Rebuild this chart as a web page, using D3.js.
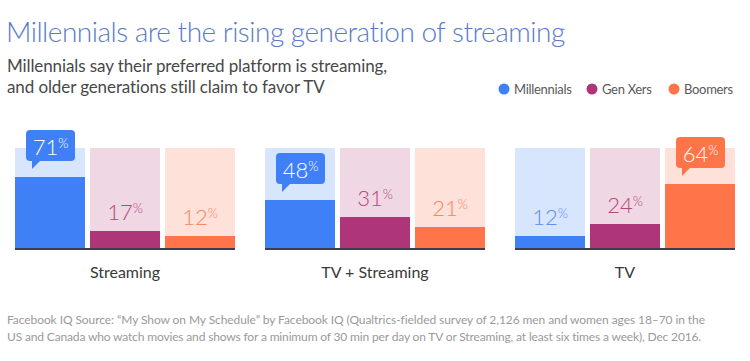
<!DOCTYPE html>
<html>
<head>
<meta charset="utf-8">
<script src="https://cdn.jsdelivr.net/npm/d3@7"></script>
<style>
  body { margin: 0; background: #fff; }
  text { font-family: Lato, "Open Sans", sans-serif; }
</style>
</head>
<body>
<section></section>
<script>
// chart data
var categories = ["Streaming", "TV + Streaming", "TV"];
var generations = ["Millennials", "Gen Xers", "Boomers"];
var millennials = [71, 48, 12];
var genXers = [17, 31, 24];
var boomers = [12, 21, 64];

var series = [millennials, genXers, boomers];

// colours per generation: bar, background, label
var barColor = ["#3f80f6", "#ae3577", "#ff7449"];
var bgColor = ["#d7e5fd", "#efd7e4", "#fee1d8"];
var labelColor = ["#5b8ff3", "#b4487f", "#ff8462"];

var width = 750, height = 361;

var svg = d3.select("section").append("svg")
  .attr("width", width)
  .attr("height", height);

// titles
svg.append("text")
  .attr("x", 6).attr("y", 42)
  .style("font-size", "28px").style("font-weight", 300)
  .style("letter-spacing", "-0.5px")
  .style("fill", "#5b7bc8")
  .text("Millennials are the rising generation of streaming");

svg.append("text")
  .attr("x", 7).attr("y", 72)
  .style("font-size", "17px")
  .style("letter-spacing", "-0.1px")
  .style("fill", "#484848")
  .text("Millennials say their preferred platform is streaming,");

svg.append("text")
  .attr("x", 7).attr("y", 93)
  .style("font-size", "17px")
  .style("letter-spacing", "-0.1px")
  .style("fill", "#484848")
  .text("and older generations still claim to favor TV");

// legend
var legendX = d3.scaleOrdinal().domain(generations).range([504, 592, 674]);
var legend = svg.selectAll(".legend")
  .data(generations)
  .enter().append("g")
  .attr("class", "legend")
  .attr("transform", function(d) { return "translate(" + legendX(d) + ",89)"; });

legend.append("circle")
  .attr("r", 5.5)
  .style("fill", function(d, i) { return barColor[i]; });

legend.append("text")
  .attr("x", 10).attr("y", 5)
  .style("font-size", "13px")
  .style("letter-spacing", "-0.3px")
  .style("fill", "#5a5a5a")
  .text(function(d) { return d; });

// scales
var x0 = d3.scaleBand()
  .domain(categories)
  .range([15, 735])
  .paddingInner(0.12);

var x1 = d3.scaleBand()
  .domain(generations)
  .range([0, x0.bandwidth()])
  .paddingInner(1 / 15);

var y = d3.scaleLinear()
  .domain([0, 100])
  .range([248, 148]);

var group = svg.selectAll(".group")
  .data(categories)
  .enter().append("g")
  .attr("class", "group")
  .attr("transform", function(d) { return "translate(" + x0(d) + ",0)"; });

// one cell per generation
var cell = group.selectAll(".cell")
  .data(function(d, ci) {
    var vals = series.map(function(s) { return s[ci]; });
    var top = d3.max(vals);
    return generations.map(function(g, gi) {
      return { gen: g, gi: gi, value: vals[gi], top: vals[gi] === top };
    });
  })
  .enter().append("g")
  .attr("class", "cell")
  .attr("transform", function(d) { return "translate(" + x1(d.gen) + ",0)"; });

cell.append("rect")
  .attr("y", y(100))
  .attr("width", x1.bandwidth())
  .attr("height", y(0) - y(100))
  .style("fill", function(d) { return bgColor[d.gi]; });

cell.append("rect")
  .attr("y", function(d) { return y(d.value); })
  .attr("width", x1.bandwidth())
  .attr("height", function(d) { return y(0) - y(d.value); })
  .style("fill", function(d) { return barColor[d.gi]; });

// plain value labels
var plain = cell.filter(function(d) { return !d.top; })
  .append("text")
  .attr("x", x1.bandwidth() / 2)
  .attr("y", function(d) { return y(d.value) - 11; })
  .style("text-anchor", "middle")
  .style("font-size", "22px").style("font-weight", 300)
  .style("fill", function(d) { return labelColor[d.gi]; });
plain.append("tspan").text(function(d) { return d.value; });
plain.append("tspan")
  .attr("dy", -7)
  .style("font-size", "13px")
  .text("%");

// callout bubble for the leading generation
var bub = cell.filter(function(d) { return d.top; })
  .append("g")
  .attr("transform", function(d) { return "translate(11," + (y(d.value) - 47) + ")"; });

bub.append("rect")
  .attr("width", 49).attr("height", 31)
  .attr("rx", 4)
  .style("fill", function(d) { return barColor[d.gi]; });

bub.append("path")
  .attr("d", "M6,30 L6,39 L15,30 Z")
  .style("fill", function(d) { return barColor[d.gi]; });

var bt = bub.append("text")
  .attr("x", 24.5).attr("y", 25)
  .style("text-anchor", "middle")
  .style("font-size", "22px").style("font-weight", 300)
  .style("fill", "#fff");
bt.append("tspan").text(function(d) { return d.value; });
bt.append("tspan")
  .attr("dy", -7)
  .style("font-size", "13px")
  .text("%");

// baseline
group.append("line")
  .attr("x1", 0).attr("x2", x0.bandwidth())
  .attr("y1", y(0) + 1).attr("y2", y(0) + 1)
  .style("stroke", "#3b3e4b")
  .style("stroke-width", 2);

// category labels
group.append("text")
  .attr("x", x0.bandwidth() / 2)
  .attr("y", 278)
  .style("text-anchor", "middle")
  .style("font-size", "16px")
  .style("fill", "#3a3a3a")
  .text(function(d) { return d; });

// source note
svg.append("text")
  .attr("x", 7).attr("y", 324)
  .style("font-size", "12px")
  .style("letter-spacing", "-0.08px")
  .style("fill", "#9a9a9a")
  .text("Facebook IQ Source: \u201cMy Show on My Schedule\u201d by Facebook IQ (Qualtrics-fielded survey of 2,126 men and women ages 18\u201370 in the");

svg.append("text")
  .attr("x", 7).attr("y", 341)
  .style("font-size", "12px")
  .style("letter-spacing", "-0.15px")
  .style("fill", "#9a9a9a")
  .text("US and Canada who watch movies and shows for a minimum of 30 min per day on TV or Streaming, at least six times a week), Dec 2016.");
</script>
</body>
</html>
